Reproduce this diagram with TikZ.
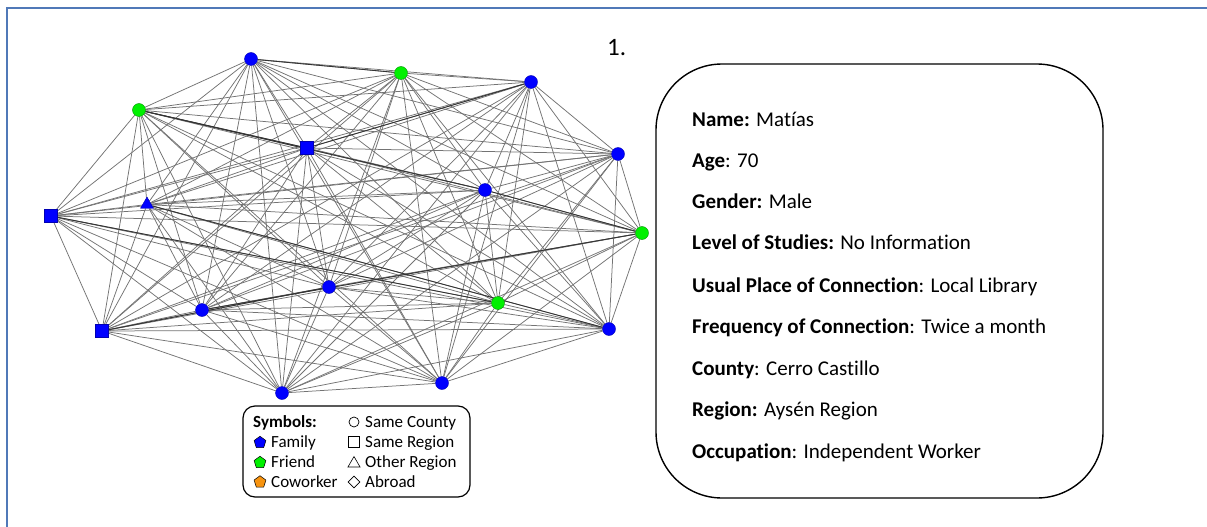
\documentclass[tikz,border=0pt]{standalone}
\usepackage{fontspec}
\setmainfont{Carlito}[Ligatures={NoCommon}]
\usetikzlibrary{shapes.geometric,backgrounds}
\definecolor{framecol}{HTML}{5079B8}
\definecolor{nodeblue}{HTML}{0000FF}
\definecolor{nodegreen}{HTML}{00F000}
\definecolor{nodeorange}{HTML}{F7930F}
\tikzset{
  famc/.style={circle, fill=nodeblue, draw=nodeblue!70!black, line width=0.4pt, inner sep=0pt, minimum size=13pt},
  frc/.style={circle, fill=nodegreen, draw=nodegreen!60!black, line width=0.4pt, inner sep=0pt, minimum size=13pt},
  fams/.style={rectangle, fill=nodeblue, draw=nodeblue!70!black, line width=0.4pt, inner sep=0pt, minimum size=13pt},
  famt/.style={regular polygon, regular polygon sides=3, fill=nodeblue, draw=nodeblue!70!black, line width=0.4pt, inner sep=0pt, minimum size=15pt},
  tie/.style={draw=black!55, line width=0.75pt},
  strongtie/.style={draw=black!80, line width=0.85pt},
  infotext/.style={anchor=base west, inner sep=0pt, font=\fontsize{21}{25}\selectfont},
  keytext/.style={anchor=base west, inner sep=0pt, font=\fontsize{17}{20}\selectfont},
  keypent/.style={regular polygon, regular polygon sides=5, draw=black, line width=0.5pt, inner sep=0pt, minimum size=12.5pt},
  keyshape/.style={draw=black, line width=0.7pt, inner sep=0pt, fill=white}
}
\begin{document}
\begin{tikzpicture}[x=1pt,y=-1pt]
\useasboundingbox (0,0) rectangle (1207,527);

% outer frame (left and top edges)
\coordinate (fb) at (7,527);
\coordinate (ftl) at (7,8);
\coordinate (ftr) at (1207,8);
\draw[framecol, line width=1.6pt] (fb) -- (ftl) -- (ftr);

% network members
\node[famc] (n1)  at (251,59)  {};
\node[frc]  (n2)  at (401,73)  {};
\node[famc] (n3)  at (531,82)  {};
\node[frc]  (n4)  at (139,110) {};
\node[fams] (n5)  at (307,148) {};
\node[famc] (n6)  at (618,154) {};
\node[famc] (n7)  at (485,190) {};
\node[famt] (n8)  at (147,204.5) {};
\node[fams] (n9)  at (51,216)  {};
\node[frc]  (n10) at (642,233) {};
\node[famc] (n11) at (329,287) {};
\node[frc]  (n12) at (498,303) {};
\node[famc] (n13) at (202,310) {};
\node[famc] (n14) at (609,329) {};
\node[fams] (n15) at (102,331) {};
\node[famc] (n16) at (282,393) {};
\node[famc] (n17) at (442,383) {};

% ties between every pair of members
\begin{pgfonlayer}{background}
  \foreach \i in {1,...,16} {
    \pgfmathtruncatemacro\nxt{\i+1}
    \foreach \j in {\nxt,...,17} {
      \draw[tie] (n\i) -- (n\j);
    }
  }
  \foreach \a/\b in {n1/n2, n4/n7, n5/n3, n13/n10, n9/n12, n7/n10, n15/n11, n8/n14, n4/n5} {
    \draw[strongtie] (\a) -- (\b);
  }
\end{pgfonlayer}

% legend
\node[draw=black, line width=1.2pt, rounded corners=12pt, minimum width=227pt, minimum height=91pt, inner sep=0pt] (key) at (356.5,451.5) {};
\node[keytext] (ksym) at (253,427) {\textbf{Symbols:}};
\node[keypent, fill=nodeblue]   (kp1) at (260,442.5) {};
\node[keytext] (kfam) at (271,447.5) {Family};
\node[keypent, fill=nodegreen]  (kp2) at (260,462.5) {};
\node[keytext] (kfri) at (271,467.5) {Friend};
\node[keypent, fill=nodeorange] (kp3) at (260,482) {};
\node[keytext] (kcow) at (271,487.5) {Coworker};
\node[keyshape, circle, minimum size=10pt] (ks1) at (354,422) {};
\node[keytext] (ksc) at (365,427) {Same County};
\node[keyshape, rectangle, minimum size=11pt] (ks2) at (354,442) {};
\node[keytext] (ksr) at (365,447.5) {Same Region};
\node[keyshape, regular polygon, regular polygon sides=3, minimum size=14pt, line width=0.6pt] (ks3) at (354,463.5) {};
\node[keytext] (kor) at (365,467.5) {Other Region};
\node[keyshape, diamond, minimum size=12pt, line width=0.6pt] (ks4) at (354,482) {};
\node[keytext] (kab) at (365,487.5) {Abroad};

% panel number
\node[anchor=base west, inner sep=0pt, font=\fontsize{25}{30}\selectfont] (num) at (607,56) {1.};

% profile card
\node[draw=black, line width=1.4pt, rounded corners=66pt, minimum width=447pt, minimum height=434pt, inner sep=0pt] (card) at (879.5,281) {};
\node[infotext] (l1) at (692,126)   {\textbf{Name:} Matías};
\node[infotext] (l2) at (692,167)   {\textbf{Age}: 70};
\node[infotext] (l3) at (692,208)   {\textbf{Gender:} Male};
\node[infotext] (l4) at (692,249)   {\textbf{Level of Studies:} No Information};
\node[infotext] (l5) at (692,292.5) {\textbf{Usual Place of Connection}: Local Library};
\node[infotext] (l6) at (692,333.5) {\textbf{Frequency of Connection}: Twice a month};
\node[infotext] (l7) at (692,375)   {\textbf{County}: Cerro Castillo};
\node[infotext] (l8) at (692,416)   {\textbf{Region:} Aysén Region};
\node[infotext] (l9) at (692,458)   {\textbf{Occupation}: Independent Worker};
\end{tikzpicture}
\end{document}
